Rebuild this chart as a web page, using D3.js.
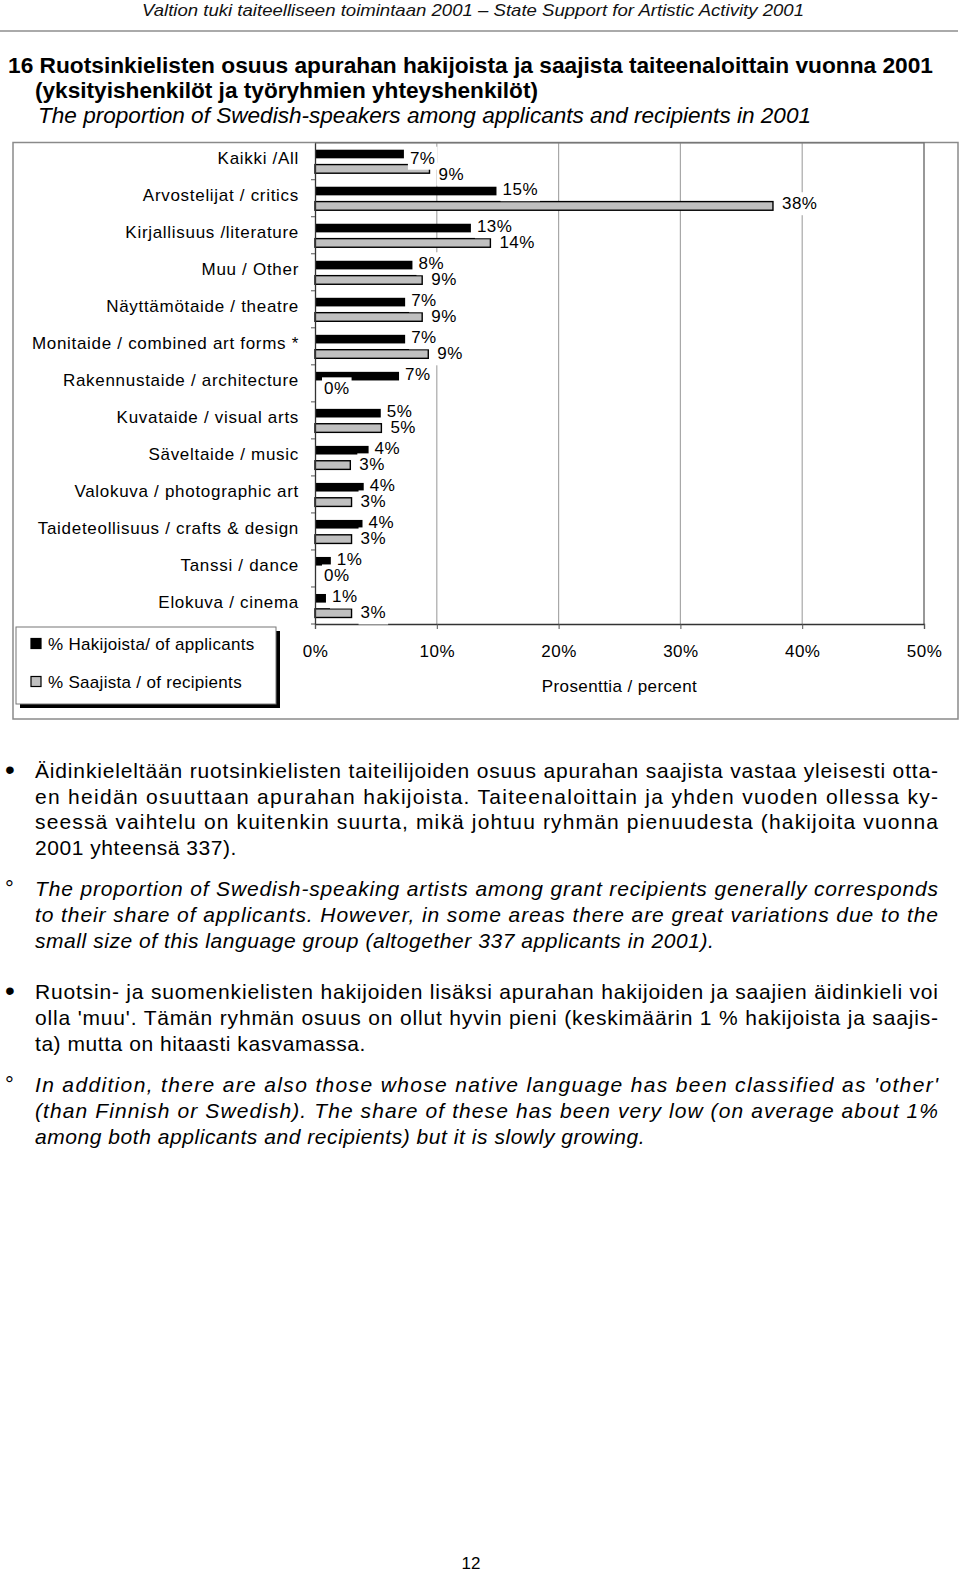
<!DOCTYPE html>
<html><head><meta charset="utf-8">
<script src="https://cdn.jsdelivr.net/npm/d3@7"></script>
<style>
html,body{margin:0;padding:0;background:#fff;}
svg{display:block;font-family:"Liberation Sans",Arial,sans-serif;}
</style></head>
<body>
<svg id="c" width="960" height="1576"></svg>
<script>
const categories = ["Kaikki /All", "Arvostelijat / critics", "Kirjallisuus /literature", "Muu / Other",
  "Näyttämötaide / theatre", "Monitaide / combined art forms *", "Rakennustaide / architecture",
  "Kuvataide / visual arts", "Säveltaide / music", "Valokuva / photographic art",
  "Taideteollisuus / crafts & design", "Tanssi / dance", "Elokuva / cinema"];
const applicants = [7.3, 14.9, 12.8, 8.0, 7.4, 7.4, 6.9, 5.4, 4.4, 4.0, 3.9, 1.3, 0.9];
const recipients = [9.4, 37.6, 14.4, 8.8, 8.8, 9.3, 0, 5.45, 2.9, 3.0, 3.0, 0, 3.0];
const seriesNames = ["% Hakijoista/ of applicants", "% Saajista / of recipients"];
const xTicks = [0, 10, 20, 30, 40, 50];
const xTitle = "Prosenttia / percent";

const headerText = "Valtion tuki taiteelliseen toimintaan 2001 – State Support for Artistic Activity 2001";
const titleLines = ["16  Ruotsinkielisten osuus apurahan hakijoista ja saajista taiteenaloittain vuonna 2001",
  "(yksityishenkilöt ja työryhmien yhteyshenkilöt)"];
const subtitle = "The proportion of Swedish-speakers among applicants and recipients in 2001";
const bodyParas = [
  {mark: "•", italic: false, lines: [
    "Äidinkieleltään ruotsinkielisten taiteilijoiden osuus apurahan saajista vastaa yleisesti otta-",
    "en heidän osuuttaan apurahan hakijoista. Taiteenaloittain ja yhden vuoden ollessa ky-",
    "seessä vaihtelu on kuitenkin suurta, mikä johtuu ryhmän pienuudesta (hakijoita vuonna",
    "2001 yhteensä 337)."]},
  {mark: "°", italic: true, lines: [
    "The proportion of Swedish-speaking artists among grant recipients generally corresponds",
    "to their share of applicants. However, in some areas there are great variations due to the",
    "small size of this language group (altogether 337 applicants in 2001)."]},
  {mark: "•", italic: false, lines: [
    "Ruotsin- ja suomenkielisten hakijoiden lisäksi apurahan hakijoiden ja saajien äidinkieli voi",
    "olla 'muu'. Tämän ryhmän osuus on ollut hyvin pieni (keskimäärin 1 % hakijoista ja saajis-",
    "ta) mutta on hitaasti kasvamassa."]},
  {mark: "°", italic: true, lines: [
    "In addition, there are also those whose native language has been classified as 'other'",
    "(than Finnish or Swedish). The share of these has been very low (on average about 1%",
    "among both applicants and recipients) but it is slowly growing."]}
];
const pageNumber = "12";

const svg = d3.select("#c");

// ---------- header ----------
svg.append("text").attr("x", 142).attr("y", 16).attr("font-size", 17).attr("font-style", "italic")
  .attr("textLength", 662).attr("lengthAdjust", "spacingAndGlyphs").attr("fill", "#111").text(headerText);
svg.append("line").attr("x1", 0).attr("x2", 958).attr("y1", 31).attr("y2", 31)
  .attr("stroke", "#aaa").attr("stroke-width", 2);
svg.append("text").attr("x", 8).attr("y", 73).attr("font-size", 22).attr("font-weight", "bold")
  .attr("textLength", 925).attr("lengthAdjust", "spacingAndGlyphs").text(titleLines[0]);
svg.append("text").attr("x", 35).attr("y", 98).attr("font-size", 22).attr("font-weight", "bold")
  .attr("textLength", 503).attr("lengthAdjust", "spacingAndGlyphs").text(titleLines[1]);
svg.append("text").attr("x", 38).attr("y", 123).attr("font-size", 22).attr("font-style", "italic")
  .attr("textLength", 773).attr("lengthAdjust", "spacingAndGlyphs").text(subtitle);

// ---------- chart ----------
const plot = {left: 315, right: 924, top: 142.7, bottom: 624};
const x = d3.scaleLinear().domain([0, 50]).range([plot.left, plot.right]);
const y = d3.scaleBand().domain(categories).range([plot.top, plot.bottom]).paddingInner(0).paddingOuter(0);
const ys = d3.scaleBand().domain([0, 1]).range([7, 30.5]).paddingInner(0.42).paddingOuter(0);

// outer frame
svg.append("rect").attr("x", 13).attr("y", 142.5).attr("width", 945).attr("height", 576.5)
  .attr("fill", "none").attr("stroke", "#8a8a8a").attr("stroke-width", 1.5);

// gridlines
svg.append("g").selectAll("line").data(xTicks.filter(t => t > 0 && t < 50)).join("line")
  .attr("x1", d => x(d)).attr("x2", d => x(d)).attr("y1", plot.top).attr("y2", plot.bottom)
  .attr("stroke", "#a8a8a8").attr("stroke-width", 1.2);
// plot frame top/right
svg.append("path").attr("d", `M${plot.left},${plot.top}H${plot.right}V${plot.bottom}`)
  .attr("fill", "none").attr("stroke", "#777").attr("stroke-width", 1.5);

// bars
const rows = categories.map((c, i) => ({c, i, a: applicants[i], r: recipients[i]}));
const gBars = svg.append("g");
gBars.selectAll("rect.app").data(rows).join("rect").attr("class", "app")
  .attr("x", x(0)).attr("y", d => y(d.c) + ys(0))
  .attr("width", d => x(d.a) - x(0)).attr("height", ys.bandwidth()).attr("fill", "#000");
gBars.selectAll("rect.rec").data(rows.filter(d => d.r > 0)).join("rect").attr("class", "rec")
  .attr("x", x(0)).attr("y", d => y(d.c) + ys(1))
  .attr("width", d => x(d.r) - x(0)).attr("height", ys.bandwidth())
  .attr("fill", "#c0c0c0").attr("stroke", "#000").attr("stroke-width", 1.4);

// axes
const xAxis = d3.axisBottom(x).tickValues(xTicks).tickSize(5).tickFormat(d => d + "%");
const gx = svg.append("g").attr("transform", `translate(0,${plot.bottom})`).call(xAxis);
gx.select(".domain").attr("stroke", "#333").attr("stroke-width", 1.3);
gx.selectAll(".tick line").attr("stroke", "#555");
gx.selectAll(".tick text").attr("font-size", 17).attr("letter-spacing", "0.5px")
  .attr("font-family", "Liberation Sans, Arial, sans-serif").attr("fill", "#000").attr("y", 0).attr("dy", "33px");

const yAxis = d3.axisLeft(y).tickSize(0).tickFormat("");
const gy = svg.append("g").attr("transform", `translate(${plot.left},0)`).call(yAxis);
gy.select(".domain").attr("stroke", "#333").attr("stroke-width", 1.3);
// category boundary ticks
svg.append("g").selectAll("line").data(categories.slice(1).concat(["__end"])).join("line")
  .attr("x1", plot.left - 4).attr("x2", plot.left)
  .attr("y1", d => d === "__end" ? plot.bottom : y(d)).attr("y2", d => d === "__end" ? plot.bottom : y(d))
  .attr("stroke", "#555");

// category labels
svg.append("g").selectAll("text").data(categories).join("text")
  .attr("x", 299).attr("y", d => y(d) + y.bandwidth() / 2 + 3)
  .attr("text-anchor", "end").attr("font-size", 17).attr("letter-spacing", "0.7px").attr("fill", "#000")
  .text(d => d);

// x title
svg.append("text").attr("x", (plot.left + plot.right) / 2).attr("y", 692).attr("text-anchor", "middle")
  .attr("font-size", 17).attr("letter-spacing", "0.4px").text(xTitle);

// data labels: white boxes first (they mask bars/axis), then texts on top
const gBox = svg.append("g");
const gLab = svg.append("g");
function addLabel(tx, cy, txt) {
  const t = gLab.append("text").attr("x", tx).attr("y", cy + 6).attr("font-size", 17)
    .attr("letter-spacing", "0.5px").text(txt);
  const w = t.node().getComputedTextLength();
  gBox.append("rect").attr("x", tx - 2).attr("y", cy - 11).attr("width", w + 4).attr("height", 23)
    .attr("fill", "#fff");
  return w;
}
rows.forEach(d => {
  const b = y(d.c);
  const aTx = x(d.a) + 6;
  const aCy = Math.max(b + 9.5, plot.top + 15);
  const aW = addLabel(aTx, aCy, Math.round(d.a) + "%");
  let rTx = x(d.r) + 9;
  let rCy = b + 23.5;
  const rW = 25;
  if (rTx < aTx + aW + 4 && rTx + rW > aTx) rCy = Math.max(rCy, aCy + 16);
  addLabel(rTx, rCy, Math.round(d.r) + "%");
});

// legend
const lg = svg.append("g");
lg.append("rect").attr("x", 20).attr("y", 631).attr("width", 260).attr("height", 77).attr("fill", "#000");
lg.append("rect").attr("x", 16).attr("y", 627).attr("width", 260).attr("height", 77)
  .attr("fill", "#fff").attr("stroke", "#777").attr("stroke-width", 1);
const legY = [644, 682];
seriesNames.forEach((s, i) => {
  lg.append("rect").attr("x", 31).attr("y", legY[i] - 5.5).attr("width", 10).attr("height", 10)
    .attr("fill", i === 0 ? "#000" : "#c0c0c0").attr("stroke", "#000").attr("stroke-width", 1.2);
  lg.append("text").attr("x", 48).attr("y", legY[i] + 6).attr("font-size", 17)
    .attr("letter-spacing", "0.3px").text(s);
});

// ---------- body text ----------
const baselines = [[778, 804, 829, 855], [896, 922, 948], [999, 1025, 1051], [1092, 1118, 1144]];
const gBody = svg.append("g").attr("font-size", 21);
bodyParas.forEach((p, pi) => {
  if (p.mark === "•") {
    gBody.append("text").attr("x", 5).attr("y", baselines[pi][0] + 1).attr("font-size", 28).text(p.mark);
  } else {
    gBody.append("text").attr("x", 5).attr("y", baselines[pi][0]).attr("font-size", 22).text(p.mark);
  }
  p.lines.forEach((ln, li) => {
    const t = gBody.append("text").attr("x", 35).attr("y", baselines[pi][li])
      .attr("font-style", p.italic ? "italic" : "normal").text(ln);
    if (li < p.lines.length - 1) t.attr("textLength", 903).attr("lengthAdjust", "spacing");
    else t.attr("letter-spacing", "0.55px");
  });
});

svg.append("text").attr("x", 471).attr("y", 1569).attr("text-anchor", "middle").attr("font-size", 17)
  .text(pageNumber);
</script>
</body></html>
